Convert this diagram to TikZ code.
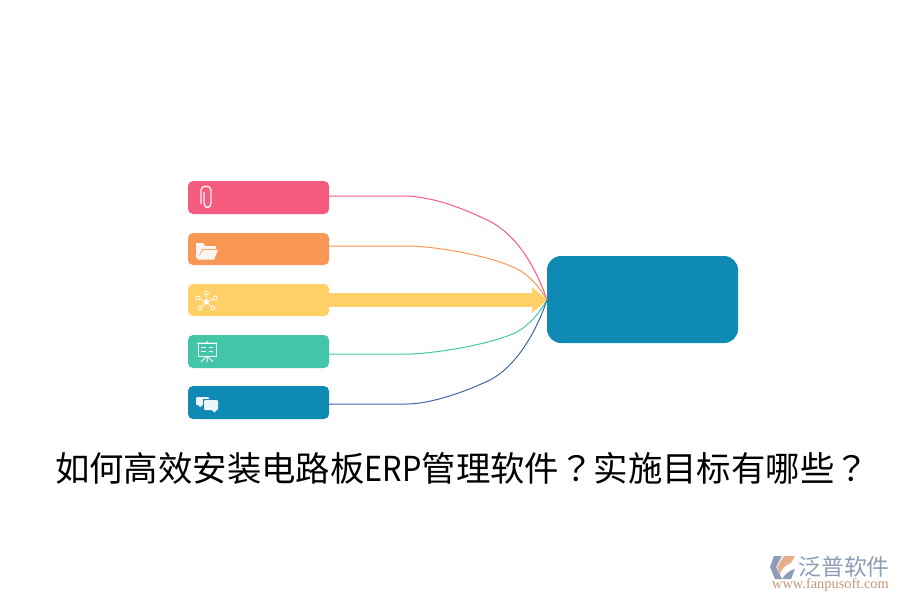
\documentclass[tikz,border=0pt]{standalone}
\usepackage{fontspec}
\newfontfamily\cjk{Noto Sans CJK SC}
\newfontfamily\cjktc{Noto Sans CJK TC}
\newfontfamily\cjknarrow[FakeStretch=0.89]{Noto Sans CJK SC}
\newfontfamily\logoserif{Liberation Serif}
\usetikzlibrary{arrows.meta,positioning}
\definecolor{pinkbar}{HTML}{F45B7E}
\definecolor{orangebar}{HTML}{F99855}
\definecolor{yellowbar}{HTML}{FFD066}
\definecolor{greenbar}{HTML}{43C6A8}
\definecolor{bluebar}{HTML}{0F8AB4}
\definecolor{bluelink}{HTML}{3F67A5}
\definecolor{logogrey}{HTML}{8C9DB5}
\definecolor{logoorange}{HTML}{E8AE8C}
\tikzset{
bar/.style={rectangle,rounded corners=5pt,minimum width=141pt,minimum height=33pt,inner sep=0pt,outer sep=0pt},
link/.style={line width=1pt},
icon/.style={white,line width=1pt,opacity=.92},
iconfill/.style={fill=white,draw=none,opacity=.92}
}
\begin{document}
\begin{tikzpicture}[x=1pt,y=-1pt]
\useasboundingbox (0,0) rectangle (900,600);

\node[bar,fill=pinkbar] (clip) at (258.5,197.5) {};
\node[bar,fill=orangebar,minimum height=32pt] (folder) at (258.5,249) {};
\node[bar,fill=yellowbar,minimum height=32pt] (net) at (258.5,300) {};
\node[bar,fill=greenbar] (board) at (258.5,351.5) {};
\node[bar,fill=bluebar] (chat) at (258.5,402.5) {};
\node[rectangle,rounded corners=14pt,fill=bluebar,minimum width=191pt,minimum height=87pt,inner sep=0pt,outer sep=0pt] (goal) at (642.5,299.5) {};

\coordinate (hit) at (547,300);

\draw[link,pinkbar] ([yshift=1.5pt]clip.east) -- (408,196) .. controls (435,198) and (460,207) .. (485,219) .. controls (515,232) and (535,265) .. (hit);
\draw[link,orangebar] ([yshift=3pt]folder.east) -- (410,246) .. controls (440,247) and (490,256) .. (515,268) .. controls (530,275) and (540,288) .. (hit);
\draw[line width=14pt,yellowbar,-{Triangle[length=15pt,width=25pt]}] (net.east) -- (hit);
\draw[link,greenbar] ([yshift=-2.5pt]board.east) -- (410,354) .. controls (440,353) and (490,344) .. (515,333) .. controls (530,325) and (540,312) .. (hit);
\draw[link,bluelink] ([yshift=-1.5pt]chat.east) -- (407,404) .. controls (430,404) and (465,392) .. (490,380) .. controls (515,367) and (535,335) .. (hit);

% icons
\draw[icon,line width=1.4pt] (204,192) -- (204,203) .. controls (204,209) and (211,209) .. (211,203) -- (211,190) .. controls (211,185) and (201,185) .. (201,190) -- (201,204);
\fill[iconfill] (196,258) -- (196,243) -- (203,243) -- (205,246) -- (216,246) -- (216,249) -- (202,249) -- (198,258) -- cycle;
\fill[iconfill] (203,250) -- (218,250) -- (214,259.5) -- (197,259.5) -- cycle;
\foreach \px/\py in {206.5/293,198/298,215/298,200/308,213/308}{
  \draw[icon,line width=.8pt] (206.5,302) -- (\px,\py);
  \draw[icon,line width=.8pt,fill=yellowbar] (\px,\py) circle (2pt);
}
\fill[iconfill] (206.5,302) circle (2.5pt);
\draw[icon] (198,343) rectangle (216,356);
\draw[icon] (197,343) -- (217,343) (207,341) -- (207,343) (207,356) -- (201,362) (207,356) -- (213,362) (207,356) -- (207,362);
\draw[icon,line width=.8pt] (201,347) -- (206,347) (201,351) -- (206,351) (209,347) -- (213,347) (209,351) -- (213,351);
\fill[iconfill,rounded corners=1pt] (196,397) -- (209,397) -- (209,405) -- (202,405) -- (200,408) -- (199,405) -- (196,405) -- cycle;
\fill[bluebar] (203,399) rectangle (219,411);
\fill[iconfill,rounded corners=1pt] (204,400) -- (218,400) -- (218,410) -- (216,410) -- (215,413) -- (212,410) -- (204,410) -- cycle;

\node[inner sep=0pt] (title) at (462,468) {\fontsize{34.4}{40}\selectfont\cjk 如何高效安装电路板{\cjknarrow ERP}管理软件{\cjktc ？}实施目标有哪些{\cjktc ？}};

% logo
\fill[logogrey] (782,556) -- (774,556) -- (770,567) -- (775,579) -- (782,579) -- (776,567) -- cycle;
\fill[logoorange] (784,556) -- (795,556) -- (791,563) .. controls (785,565) and (781,570) .. (780,574) -- (777,567) -- cycle;
\fill[logogrey] (782,579) -- (791,579) -- (795,569) .. controls (790,570) and (785,574) .. (782,579) -- cycle;
\node[logogrey,inner sep=0pt] (brand) at (844,567) {\cjk\fontsize{22.8}{24}\selectfont 泛普软件};
\node[logoorange!85!black,inner sep=0pt] (site) at (830.5,584.5) {\logoserif\fontsize{14.4}{15}\selectfont www.fanpusoft.com};
\end{tikzpicture}
\end{document}
